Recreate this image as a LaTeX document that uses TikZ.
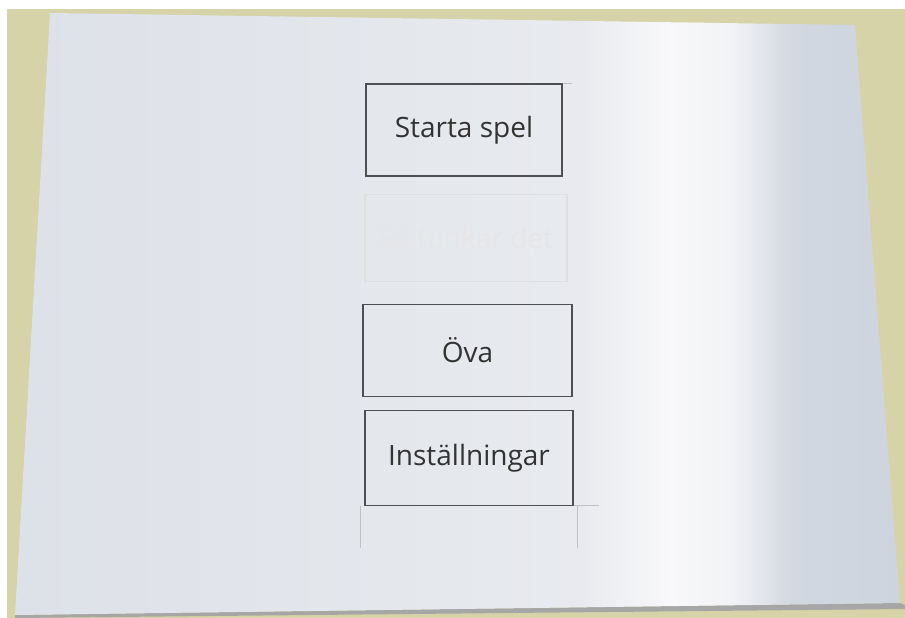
\documentclass[tikz,border=0pt]{standalone}
\usepackage{fontspec}
\setmainfont{Open Sans}
\usepackage{xcolor}
\usetikzlibrary{positioning}
\definecolor{wall}{HTML}{D5D3A7}
\definecolor{pencil}{HTML}{4E4F52}
\definecolor{paperL}{HTML}{DDE1E8}
\definecolor{paperM}{HTML}{E4E7EC}
\definecolor{paperW}{HTML}{F8F8FA}
\definecolor{paperR}{HTML}{CDD4DE}
\pgfdeclarehorizontalshading{paperlight}{100bp}{
  color(0bp)=(paperL); color(25bp)=(paperL); color(46bp)=(paperM);
  color(57bp)=(paperM!80!paperW); color(62bp)=(paperW); color(65.5bp)=(paperW!70!paperM);
  color(69bp)=(paperR!80!paperM); color(75bp)=(paperR); color(100bp)=(paperR)}
\tikzset{
  menubox/.style={
    rectangle,
    draw=pencil,
    line width=1.1pt,
    minimum width=200pt,
    minimum height=92pt,
    align=center,
    text=black!80,
    font=\fontsize{28}{32}\selectfont,
    inner sep=0pt
  },
  erasedbox/.style={
    menubox,
    draw=pencil!18,
    text=pencil!14
  },
  guideline/.style={
    draw=pencil!35,
    line width=0.8pt
  }
}

\begin{document}
\begin{tikzpicture}[x=1pt, y=-1pt]
  \useasboundingbox (0,0) rectangle (905,618);
  \fill[white] (0,0) rectangle (905,618);
  \fill[wall] (7,9) rectangle (905,618);
  \fill[black!35] (15,615) -- (900,603) -- (905,605) -- (905,609) -- (15,618) -- cycle;
  \shade[shading=paperlight] (50,13) -- (855,25) -- (900,603) -- (15,615) -- cycle;

  \node[menubox, minimum width=196pt] (start) at (464,130) {Starta spel};
  \node[erasedbox, minimum width=202pt, minimum height=87pt, below=17pt of start, xshift=2pt] (rules) {Så funkar det};
  \node[menubox, minimum width=209pt, below=22pt of rules, xshift=1.5pt] (practice) {Öva};
  \node[menubox, minimum width=208pt, minimum height=95pt, below=13pt of practice, xshift=1.5pt] (settings) {Inställningar};

  \draw[guideline] (start.north east) -- ++(9,0);
  \draw[guideline] (settings.south east) -- ++(25,0);
  \draw[guideline] (settings.south west) ++(-4,0) -- ++(0,42);
  \draw[guideline] (settings.south east) ++(4,0) -- ++(0,42);
\end{tikzpicture}
\end{document}
